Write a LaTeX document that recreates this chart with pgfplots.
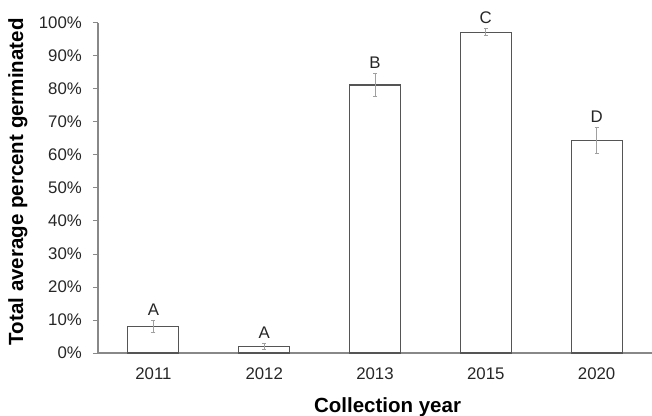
\documentclass[border=0pt]{standalone}
\usepackage{pgfplots}
\pgfplotsset{compat=1.18}
\usepackage{fontspec}
\setmainfont{Liberation Sans}
\definecolor{axisgray}{RGB}{136,136,136}
\definecolor{bargray}{RGB}{85,85,85}
\definecolor{errgray}{RGB}{160,160,160}
\begin{document}
\begin{tikzpicture}
\useasboundingbox (-98bp,-63bp) rectangle (554bp,353bp);
\begin{axis}[
  at={(0,0)}, anchor=south west,
  scale only axis, width=554bp, height=330bp,
  xmin=-0.5, xmax=4.5, ymin=0, ymax=100,
  axis x line*=bottom, axis y line*=left,
  axis line style={axisgray, line width=1.1bp, -},
  xtick={0,1,2,3,4},
  xticklabels={2011,2012,2013,2015,2020},
  x tick style={draw=none},
  extra x ticks={0.5,1.5,2.5,3.5},
  extra x tick labels={},
  extra x tick style={tick style={axisgray, line width=1bp}, major tick length=5bp, tick align=outside},
  ytick={0,10,...,100},
  yticklabels={0\%,10\%,20\%,30\%,40\%,50\%,60\%,70\%,80\%,90\%,100\%},
  y tick style={axisgray, line width=1bp},
  major tick length=5bp, tick align=outside,
  tick label style={font=\fontsize{16.8bp}{18bp}\selectfont, text=black!85},
  yticklabel style={inner sep=0pt, xshift=-11bp},
  xticklabel style={inner sep=0pt, yshift=-10bp},
  xlabel={\textbf{Collection year}},
  ylabel={\textbf{Total average percent germinated}},
  every axis x label/.style={at={(axis description cs:0.5226,-0.1818)}, anchor=base, font=\fontsize{20.5bp}{22bp}\selectfont},
  every axis y label/.style={at={(axis description cs:-0.1445,0.519)}, anchor=center, rotate=90, font=\fontsize{20.5bp}{22bp}\selectfont},
]
\addplot[ybar, bar width=51bp, fill=white, draw=bargray, line width=1.1bp,
  error bars/.cd, y dir=both, y explicit,
  error bar style={errgray, line width=0.9bp},
  error mark options={errgray, rotate=90, mark size=2bp, line width=0.9bp}]
  coordinates {
  (0,8.0) +- (0,1.8)
  (1,1.9) +- (0,0.9)
  (2,81.2) +- (0,3.55)
  (3,97.2) +- (0,1.0)
  (4,64.5) +- (0,3.95)
};
\addplot[draw=none, nodes near coords, point meta=explicit symbolic,
  every node near coord/.append style={anchor=base, yshift=5bp, inner sep=0pt, font=\fontsize{16.8bp}{18bp}\selectfont, text=black!85}]
  coordinates {
  (0,9.8) [A]
  (1,2.8) [A]
  (2,84.75) [B]
  (3,98.2) [C]
  (4,68.45) [D]
};
\end{axis}
\end{tikzpicture}
\end{document}
